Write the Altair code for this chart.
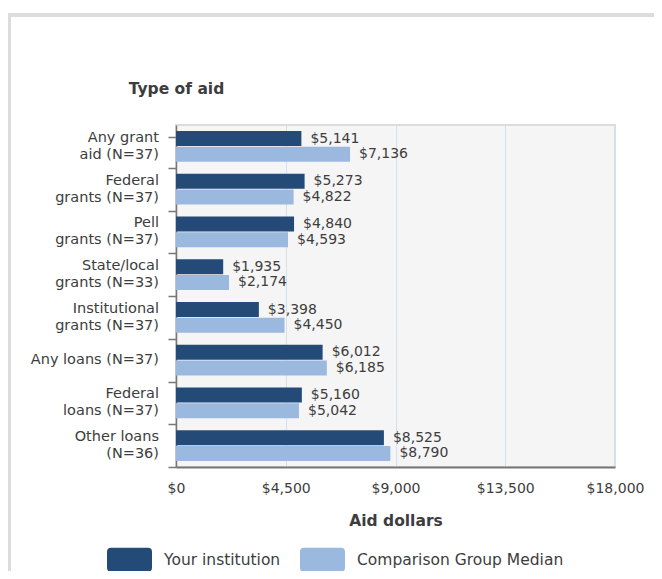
import altair as alt
import pandas as pd

categories = [
    "Any grant\naid (N=37)",
    "Federal\ngrants (N=37)",
    "Pell\ngrants (N=37)",
    "State/local\ngrants (N=33)",
    "Institutional\ngrants (N=37)",
    "Any loans (N=37)",
    "Federal\nloans (N=37)",
    "Other loans\n(N=36)",
]
your_institution = [5141, 5273, 4840, 1935, 3398, 6012, 5160, 8525]
comparison_median = [7136, 4822, 4593, 2174, 4450, 6185, 5042, 8790]
series_names = ["Your institution", "Comparison Group Median"]
x_ticks = [0, 4500, 9000, 13500, 18000]

rows = []
for c, a, b in zip(categories, your_institution, comparison_median):
    rows.append({"category": c, "series": series_names[0], "value": a})
    rows.append({"category": c, "series": series_names[1], "value": b})
df = pd.DataFrame(rows)
cat_df = pd.DataFrame({"category": categories})

DARK = "#244b78"
LIGHT = "#9bb9de"
FONT = "DejaVu Sans"
TXT = "#3d3d3d"

y_enc = alt.Y(
    "category:N",
    sort=categories,
    scale=alt.Scale(paddingInner=0.28, paddingOuter=0.14),
    axis=alt.Axis(
        title="Type of aid",
        titleAngle=0,
        titleX=0,
        titleY=-37,
        titleAlign="center",
        titleBaseline="middle",
        titleFontSize=15.5,
        titleFontWeight="bold",
        titleColor=TXT,
        labels=False,
        bandPosition=1,
        tickExtra=True,
        tickOffset=6,
        tickSize=8,
        tickColor="#777",
        domainColor="#777",
        domainWidth=1.5,
        tickWidth=1.5,
    ),
)
yoff = alt.YOffset("series:N", sort=series_names, scale=alt.Scale(paddingInner=0.04))
x_enc = alt.X(
    "value:Q",
    scale=alt.Scale(domain=[0, 18000], nice=False),
    axis=alt.Axis(
        values=x_ticks,
        format="$,.0f",
        title="Aid dollars",
        titleFontSize=15.5,
        titleFontWeight="bold",
        titleColor=TXT,
        titlePadding=18,
        labelFontSize=14,
        labelColor=TXT,
        labelPadding=14,
        labelFlush=False,
        ticks=False,
        grid=True,
        gridColor="#d6dfed",
        gridWidth=1,
        domainColor="#777",
        domainWidth=2,
    ),
)

rounded = ("M-0.82,-0.533 L0.82,-0.533 Q1,-0.533 1,-0.355 L1,0.355 Q1,0.533 0.82,0.533 "
           "L-0.82,0.533 Q-1,0.533 -1,0.355 L-1,-0.355 Q-1,-0.533 -0.82,-0.533 Z")

bars = alt.Chart(df).mark_bar().encode(
    y=y_enc,
    yOffset=yoff,
    x=x_enc,
    color=alt.Color(
        "series:N",
        sort=series_names,
        scale=alt.Scale(domain=series_names, range=[DARK, LIGHT]),
        legend=alt.Legend(
            title=None,
            orient="none",
            direction="horizontal",
            legendX=-69,
            legendY=412,
            symbolType=rounded,
            symbolSize=2025,
            symbolStrokeWidth=0,
            symbolOpacity=1,
            labelFontSize=15.5,
            labelColor=TXT,
            labelOffset=12,
            labelLimit=400,
            columnPadding=19,
            padding=0,
        ),
    ),
)

value_labels = alt.Chart(df).mark_text(
    align="left", baseline="middle", dx=9, fontSize=14, color=TXT, font=FONT
).encode(
    y=alt.Y("category:N", sort=categories),
    yOffset=alt.YOffset("series:N", sort=series_names),
    x=alt.X("value:Q"),
    text=alt.Text("value:Q", format="$,.0f"),
)

multi = "indexof(datum.category, '\\n') >= 0"
cat_two = alt.Chart(cat_df).transform_filter(multi).mark_text(
    align="right", baseline="middle", lineBreak="\n", lineHeight=17, dy=-8.5,
    fontSize=14.5, color=TXT, font=FONT,
).encode(
    y=alt.Y("category:N", sort=categories),
    x=alt.value(-17),
    text="category:N",
)
cat_one = alt.Chart(cat_df).transform_filter("!(" + multi + ")").mark_text(
    align="right", baseline="middle", fontSize=14.5, color=TXT, font=FONT,
).encode(
    y=alt.Y("category:N", sort=categories),
    x=alt.value(-17),
    text="category:N",
)

frame_top = alt.Chart(df).mark_rule(color="#dcdcdc", strokeWidth=2.5).encode(
    x=alt.value(-170), x2=alt.value(480), y=alt.value(-110)
)
frame_left = alt.Chart(df).mark_rule(color="#dcdcdc", strokeWidth=2.5).encode(
    x=alt.value(-167), y=alt.value(-111), y2=alt.value(460)
)

chart = alt.layer(frame_top, frame_left, bars, value_labels, cat_two, cat_one).properties(
    width=439,
    height=342,
    autosize=alt.AutoSizeParams(type="none"),
    padding={"left": 168, "top": 117, "right": 39, "bottom": 104},
    background="white",
).configure(font=FONT).configure_view(
    fill="#f5f5f5", stroke="#dcdcdc", strokeWidth=2
)

chart.save("out.html", embed_options={"renderer": "svg", "actions": False})
